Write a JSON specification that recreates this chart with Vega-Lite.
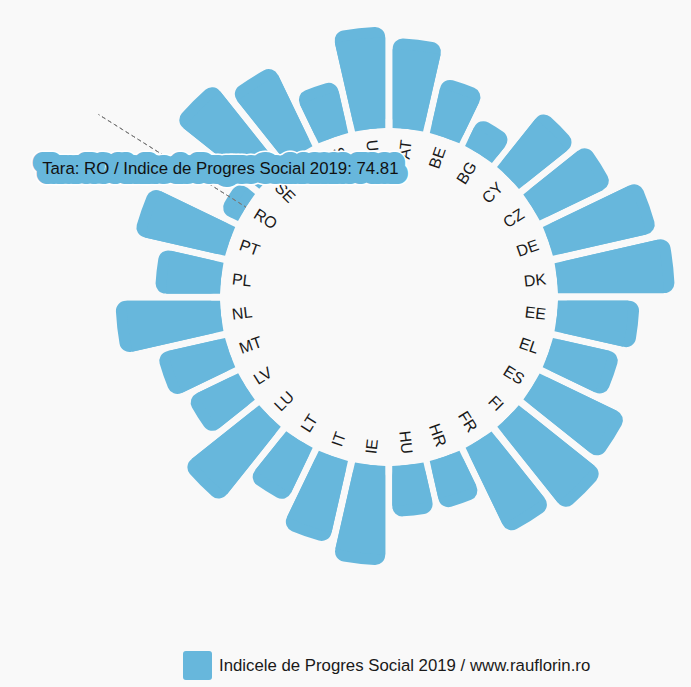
{
  "$schema": "https://vega.github.io/schema/vega-lite/v6.json",
  "width": 560,
  "height": 560,
  "autosize": {"type": "none"},
  "padding": {"left": 109, "top": 17, "right": 22, "bottom": 110},
  "background": "#f9f9f9",
  "config": {"view": {"stroke": null}, "font": "Liberation Sans"},
  "data": {
    "values": [
      {"country": "AT", "value": 85.8},
      {"country": "BE", "value": 80.55},
      {"country": "BG", "value": 76.57},
      {"country": "CY", "value": 83.09},
      {"country": "CZ", "value": 84.37},
      {"country": "DE", "value": 88.51},
      {"country": "DK", "value": 90.09},
      {"country": "EE", "value": 84.46},
      {"country": "EL", "value": 82.46},
      {"country": "ES", "value": 86.87},
      {"country": "FI", "value": 88.67},
      {"country": "FR", "value": 86.76},
      {"country": "HR", "value": 79.43},
      {"country": "HU", "value": 79.59},
      {"country": "IE", "value": 87.33},
      {"country": "IT", "value": 84.94},
      {"country": "LT", "value": 81.18},
      {"country": "LU", "value": 87.01},
      {"country": "LV", "value": 80.55},
      {"country": "MT", "value": 82.62},
      {"country": "NL", "value": 88.13},
      {"country": "PL", "value": 81.82},
      {"country": "PT", "value": 86.36},
      {"country": "RO", "value": 74.81},
      {"country": "SE", "value": 88.67},
      {"country": "SI", "value": 85.8},
      {"country": "SK", "value": 80.07},
      {"country": "UK", "value": 87.65}
    ]
  },
  "transform": [
    {"joinaggregate": [{"op": "count", "as": "n"}], "groupby": ["country"]},
    {"stack": "n", "groupby": [], "sort": [{"field": "country", "order": "ascending"}], "as": ["t0", "t1"]}
  ],
  "encoding": {
    "theta": {"field": "t0", "type": "quantitative", "scale": {"domain": [0, 28]}}
  },
  "layer": [
    {
      "mark": {"type": "arc", "innerRadius": 169, "cornerRadius": 10, "padAngle": 0.024},
      "encoding": {
        "theta2": {"field": "t1"},
        "radius": {"field": "value", "type": "quantitative", "scale": {"type": "linear", "zero": false, "domain": [71.5, 90], "range": [169, 285.2]}},
        "color": {
          "datum": "Indicele de Progres Social 2019 / www.rauflorin.ro",
          "type": "nominal",
          "scale": {"range": ["#67b7dc"]},
          "legend": {
            "orient": "none",
            "legendX": 74,
            "legendY": 634,
            "title": null,
            "padding": 0,
            "symbolType": "M-0.8,-1H0.8Q1,-1 1,-0.8V0.8Q1,1 0.8,1H-0.8Q-1,1 -1,0.8V-0.8Q-1,-1 -0.8,-1Z",
            "symbolSize": 841,
            "symbolStrokeWidth": 0,
            "symbolOpacity": 1,
            "labelFontSize": 16.8,
            "labelFont": "Liberation Sans",
            "labelColor": "#1a1a1a",
            "labelLimit": 600,
            "labelOffset": 7
          }
        }
      }
    },
    {
      "mark": {"type": "arc", "innerRadius": 169, "cornerRadius": 0, "padAngle": 0.024, "radiusOffset": -11, "color": "#67b7dc"},
      "encoding": {
        "theta2": {"field": "t1"},
        "radius": {"field": "value", "type": "quantitative"}
      }
    },
    {
      "mark": {"type": "text", "radius": 158, "thetaOffset": 0.1122, "align": "right", "baseline": "middle", "fontSize": 16, "fill": "#1a1a1a"},
      "encoding": {
        "text": {"condition": {"test": "datum.country < 'IE'", "field": "country", "type": "nominal"}, "value": ""},
        "angle": {
          "field": "country",
          "type": "nominal",
          "scale": {
            "type": "ordinal",
            "domain": ["AT","BE","BG","CY","CZ","DE","DK","EE","EL","ES","FI","FR","HR","HU","IE","IT","LT","LU","LV","MT","NL","PL","PT","RO","SE","SI","SK","UK"],
            "range": [-83.57,-70.71,-57.86,-45,-32.14,-19.29,-6.43,6.43,19.29,32.14,45,57.86,70.71,83.57,-83.57,-70.71,-57.86,-45,-32.14,-19.29,-6.43,6.43,19.29,32.14,45,57.86,70.71,83.57]
          },
          "legend": null
        }
      }
    },
    {
      "mark": {"type": "text", "radius": 158, "thetaOffset": 0.1122, "align": "left", "baseline": "middle", "fontSize": 16, "fill": "#1a1a1a"},
      "encoding": {
        "text": {"condition": {"test": "datum.country >= 'IE'", "field": "country", "type": "nominal"}, "value": ""},
        "angle": {
          "field": "country",
          "type": "nominal",
          "scale": {
            "type": "ordinal",
            "domain": ["AT","BE","BG","CY","CZ","DE","DK","EE","EL","ES","FI","FR","HR","HU","IE","IT","LT","LU","LV","MT","NL","PL","PT","RO","SE","SI","SK","UK"],
            "range": [-83.57,-70.71,-57.86,-45,-32.14,-19.29,-6.43,6.43,19.29,32.14,45,57.86,70.71,83.57,-83.57,-70.71,-57.86,-45,-32.14,-19.29,-6.43,6.43,19.29,32.14,45,57.86,70.71,83.57]
          },
          "legend": null
        }
      }
    },
    {
      "mark": {"type": "arc", "innerRadius": 169, "radius": 343, "thetaOffset": 0.1122, "theta2Offset": -0.1122, "fillOpacity": 0, "stroke": "#7a7a7a", "strokeWidth": 1, "strokeDash": [4, 3], "strokeDashOffset": 3},
      "encoding": {
        "theta2": {"field": "t1"},
        "strokeOpacity": {"condition": {"test": "datum.country === 'RO'", "value": 1}, "value": 0}
      }
    },
    {
      "mark": {"type": "text", "thetaOffset": 0.1122, "align": "center", "baseline": "middle", "dx": -8, "dy": -27, "fontSize": 16.8, "stroke": "#ffffff", "strokeWidth": 23, "strokeJoin": "round", "fillOpacity": 0},
      "encoding": {
        "radius": {"field": "value", "type": "quantitative"},
        "text": {"condition": {"test": "datum.country === 'RO'", "value": "Tara: RO / Indice de Progres Social 2019: 74.81"}, "value": ""}
      }
    },
    {
      "mark": {"type": "text", "thetaOffset": 0.1122, "align": "center", "baseline": "middle", "dx": -8, "dy": -27, "fontSize": 16.8, "stroke": "#67b7dc", "strokeWidth": 20, "strokeJoin": "round", "fillOpacity": 0},
      "encoding": {
        "radius": {"field": "value", "type": "quantitative"},
        "text": {"condition": {"test": "datum.country === 'RO'", "value": "Tara: RO / Indice de Progres Social 2019: 74.81"}, "value": ""}
      }
    },
    {
      "mark": {"type": "text", "thetaOffset": 0.1122, "align": "center", "baseline": "middle", "dx": -8, "dy": -27, "fontSize": 16.8, "fill": "#111111"},
      "encoding": {
        "radius": {"field": "value", "type": "quantitative"},
        "text": {"condition": {"test": "datum.country === 'RO'", "value": "Tara: RO / Indice de Progres Social 2019: 74.81"}, "value": ""}
      }
    }
  ]
}
